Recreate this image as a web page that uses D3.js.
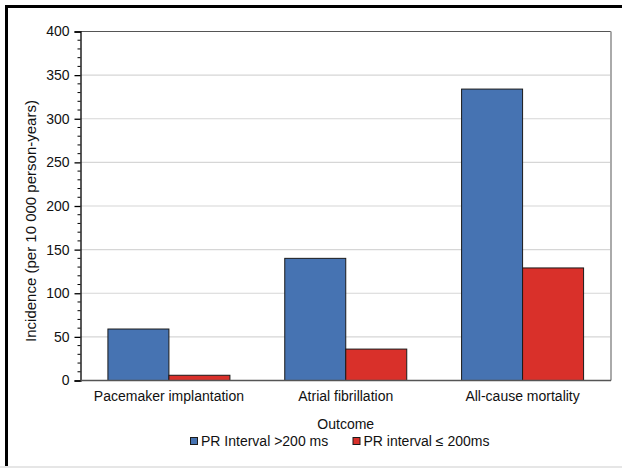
<!DOCTYPE html>
<html><head><meta charset="utf-8">
<script src="https://cdn.jsdelivr.net/npm/d3@7"></script>
<style>body{margin:0;background:#fff}svg{display:block}text{font-family:"Liberation Sans",Arial,sans-serif;fill:#111}</style>
</head><body>
<script>
const categories = ["Pacemaker implantation", "Atrial fibrillation", "All-cause mortality"];
const seriesNames = ["PR Interval >200 ms", "PR interval \u2264 200ms"];
const prLong = [59, 140, 334];
const prNormal = [6, 36, 129];
const yTicks = [0, 50, 100, 150, 200, 250, 300, 350, 400];
const colors = ["#4673b2", "#d9302a"];

const W = 622, H = 468;
const m = {l: 80.5, r: 611, t: 31.5, b: 380.5};
const svg = d3.select("body").append("svg").attr("width", W).attr("height", H);

svg.append("rect").attr("x", 0).attr("y", 466).attr("width", W).attr("height", 2).attr("fill", "#e6e6e6");
svg.append("rect").attr("x", 5).attr("y", 5).attr("width", W - 5).attr("height", 3).attr("fill", "#000");
svg.append("rect").attr("x", 5).attr("y", 5).attr("width", 3).attr("height", H - 7).attr("fill", "#000");

const x = d3.scaleBand().domain(categories).range([m.l, m.r]).paddingInner(0).paddingOuter(0);
const y = d3.scaleLinear().domain([0, 400]).range([m.b, m.t]);

svg.append("g").selectAll("line").data(yTicks.filter(d => d > 0 && d < 400)).join("line")
  .attr("x1", m.l).attr("x2", m.r).attr("y1", d => y(d)).attr("y2", d => y(d))
  .attr("stroke", "#d6d6d6").attr("stroke-width", 1.2);
svg.append("line").attr("x1", m.l).attr("x2", m.r).attr("y1", m.t).attr("y2", m.t).attr("stroke", "#555").attr("stroke-width", 1.2);
svg.append("line").attr("x1", m.r).attr("x2", m.r).attr("y1", m.t).attr("y2", m.b).attr("stroke", "#aaa").attr("stroke-width", 2);

const bw = 61;
const series = [prLong, prNormal];
series.forEach((vals, si) => {
  svg.append("g").selectAll("rect").data(categories).join("rect")
    .attr("x", (c) => x(c) + x.bandwidth() / 2 - bw + si * bw)
    .attr("y", (c, i) => y(vals[i]))
    .attr("width", bw)
    .attr("height", (c, i) => y(0) - y(vals[i]))
    .attr("fill", colors[si]).attr("stroke", "#1a1a1a").attr("stroke-width", 1);
});

const yAxis = d3.axisLeft(y).tickValues(yTicks).tickSize(6).tickPadding(5);
const gy = svg.append("g").attr("transform", `translate(${m.l},0)`).call(yAxis);
gy.select(".domain").attr("stroke", "#000").attr("stroke-width", 1.3);
gy.selectAll(".tick line").attr("stroke", "#000").attr("stroke-width", 1.3);
gy.selectAll(".tick text").attr("font-size", 14).attr("font-family", '"Liberation Sans",Arial,sans-serif').attr("fill", "#111");
const minor = d3.range(0, 401, 10).filter(d => d % 50 !== 0);
svg.append("g").selectAll("line").data(minor).join("line")
  .attr("x1", m.l - 3).attr("x2", m.l).attr("y1", d => y(d)).attr("y2", d => y(d))
  .attr("stroke", "#000").attr("stroke-width", 1);

svg.append("line").attr("x1", m.l).attr("x2", m.r).attr("y1", y(0)).attr("y2", y(0)).attr("stroke", "#555").attr("stroke-width", 1.5);

svg.append("g").selectAll("text").data(categories).join("text")
  .attr("x", c => x(c) + x.bandwidth() / 2).attr("y", 401)
  .attr("text-anchor", "middle").attr("font-size", 14).text(c => c);

svg.append("text").attr("x", (m.l + m.r) / 2).attr("y", 429).attr("text-anchor", "middle").attr("font-size", 14).text("Outcome");
svg.append("text").attr("transform", `translate(35.5,221) rotate(-90)`).attr("text-anchor", "middle").attr("font-size", 15).text("Incidence (per 10 000 person-years)");

const legX = [190.5, 353];
seriesNames.forEach((n, i) => {
  svg.append("rect").attr("x", legX[i]).attr("y", 437.5).attr("width", 7).attr("height", 7)
    .attr("fill", colors[i]).attr("stroke", "#1a1a1a").attr("stroke-width", 1);
  svg.append("text").attr("x", legX[i] + 10.5).attr("y", 446).attr("font-size", 14).text(n);
});
</script>
</body></html>
